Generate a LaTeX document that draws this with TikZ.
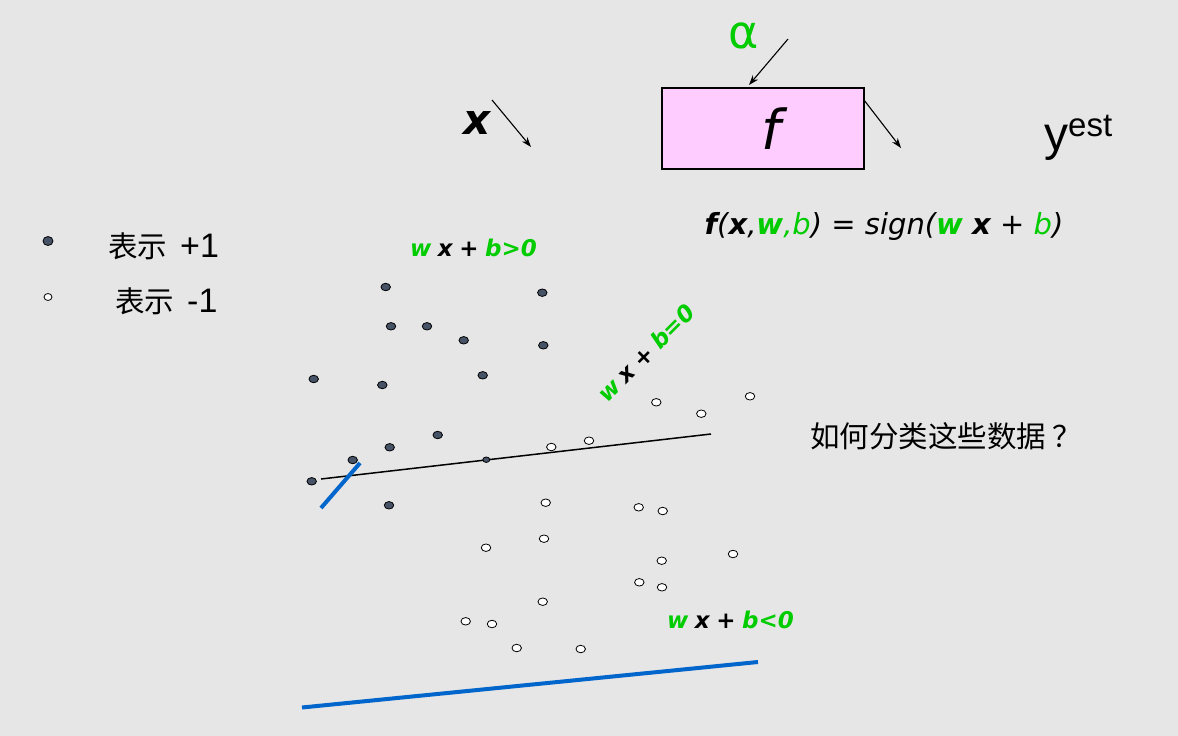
\documentclass[tikz,border=0pt]{standalone}
\usepackage{fontspec}
\setmainfont{DejaVu Sans}
\newfontfamily\cjk{Noto Sans CJK SC}
\newfontfamily\arialf{Liberation Sans}
\usetikzlibrary{arrows.meta,shapes.geometric}
\definecolor{bg}{HTML}{E6E6E6}
\definecolor{grn}{HTML}{00CC00}
\definecolor{blu}{HTML}{0066CC}
\definecolor{dotc}{HTML}{465266}
\definecolor{boxpink}{HTML}{FFCCFF}
\newcommand{\gp}{\hspace{6.5pt}}
\begin{document}
\begin{tikzpicture}[x=1pt,y=-1pt,
  pdot/.style={ellipse,draw=black,fill=dotc,line width=0.8pt,minimum width=9.5pt,minimum height=7.5pt,inner sep=0pt},
  ndot/.style={ellipse,draw=black,fill=white,line width=0.8pt,minimum width=9.5pt,minimum height=7.5pt,inner sep=0pt},
  arr/.style={-{Stealth[length=10pt,width=7pt]},line width=1.1pt,black},
  lbl/.style={font=\fontsize{23}{23}\selectfont\bfseries\itshape,inner sep=0pt},
  cjktext/.style={font=\fontsize{29.5}{30}\selectfont\cjk,inner sep=0pt},
  bluline/.style={draw=blu,line width=4pt},
]
\fill[bg] (0,0) rectangle (1178,736);
\useasboundingbox (0,0) rectangle (1178,736);

% top: input, function box, output
\node[font=\fontsize{42}{42}\selectfont\bfseries\itshape,inner sep=0pt] (xin) at (477,123) {x};
\coordinate (xa1) at (492,100);
\coordinate (xa2) at (531,147);
\draw[arr] (xa1) -- (xa2);

\node[draw=black,line width=1.3pt,fill=boxpink,minimum width=202pt,minimum height=81pt,inner sep=0pt] (fbox) at (763,128.5) {};
\node[font=\fontsize{55}{55}\selectfont\itshape,inner sep=0pt] (fl) at (771,129) {f};

\node[font=\fontsize{46}{46}\selectfont,text=grn,inner sep=0pt] (alpha) at (744,36) {α};
\coordinate (aa1) at (788,39);
\coordinate (aa2) at (749,85);
\draw[arr] (aa1) -- (aa2);

\coordinate (fa1) at (864,100);
\coordinate (fa2) at (901,148);
\draw[arr] (fa1) -- (fa2);

\node[font=\fontsize{48}{48}\selectfont\arialf,inner sep=0pt,anchor=base west] (yest) at (1044,150) {y\raisebox{14pt}{\fontsize{33}{33}\selectfont est}};

\node[font=\fontsize{29}{29}\selectfont\itshape,inner sep=0pt] (formula) at (884,226)
  {\textbf{f}(\textbf{x},\textcolor{grn}{\textbf{w},b}) = sign(\textcolor{grn}{\textbf{w}} \textbf{x} + \textcolor{grn}{b})};

% legend
\node[pdot,minimum width=10pt,minimum height=9pt] (lp) at (48,241) {};
\node[ndot,minimum width=8pt,minimum height=7pt] (ln) at (48,297) {};
\node[cjktext,anchor=west] (lpt) at (108,246) {表示\hspace{13pt}{\arialf\fontsize{34}{34}\selectfont +1}};
\node[cjktext,anchor=west] (lnt) at (115,301) {表示\hspace{13pt}{\arialf\fontsize{34}{34}\selectfont -1}};

% question
\node[cjktext,anchor=west] (q) at (810,436) {如何分类这些数据\hspace{6pt}？};

% region labels
\node[lbl,anchor=west] (gt) at (410,248) {\textcolor{grn}{w}\gp x\gp +\gp \textcolor{grn}{b>0}};
\node[lbl,anchor=west] (lt) at (667,620) {\textcolor{grn}{w}\gp x\gp +\gp \textcolor{grn}{b<0}};
\node[lbl,rotate=45] (eq) at (646,353) {\textcolor{grn}{w}\gp x\gp +\gp \textcolor{grn}{b=0}};

% lines
\coordinate (l1) at (321,479);
\coordinate (l2) at (711,434);
\draw[line width=1.5pt] (l1) -- (l2);
\coordinate (s1) at (321,508);
\coordinate (s2) at (360,463);
\draw[bluline] (s1) -- (s2);
\coordinate (b1) at (302,707.5);
\coordinate (b2) at (758,662);
\draw[bluline] (b1) -- (b2);

% positive points
\foreach \n/\px/\py in {p1/385.7/287,p2/542.3/292.7,p3/391/326.3,p4/427/326.3,p5/463.7/340.3,p6/543.3/345.3,p7/313.7/379,p8/382.3/385,p9/482.7/375.3,p10/437.7/435,p11/389.7/447.3,p12/352.7/460,p14/311.7/481.3,p15/389/505.3}
  \node[pdot] (\n) at (\px,\py) {};
\node[pdot,minimum width=7pt,minimum height=5.5pt] (p13) at (486.3,459.7) {};

% negative points
\foreach \n/\px/\py in {n1/551.3/447,n2/589/440.7,n3/656.3/402.3,n4/701.3/413.7,n5/750/396.3,n6/545.7/502.7,n7/638.7/507.3,n8/662.7/511,n9/544/538.7,n10/486/547.7,n11/661.7/560.7,n12/733/554,n13/639.3/582.3,n14/662/587.3,n15/542.7/601.7,n16/465.7/621.3,n17/492/624,n18/516.7/648,n19/580.7/649}
  \node[ndot] (\n) at (\px,\py) {};
\end{tikzpicture}
\end{document}
